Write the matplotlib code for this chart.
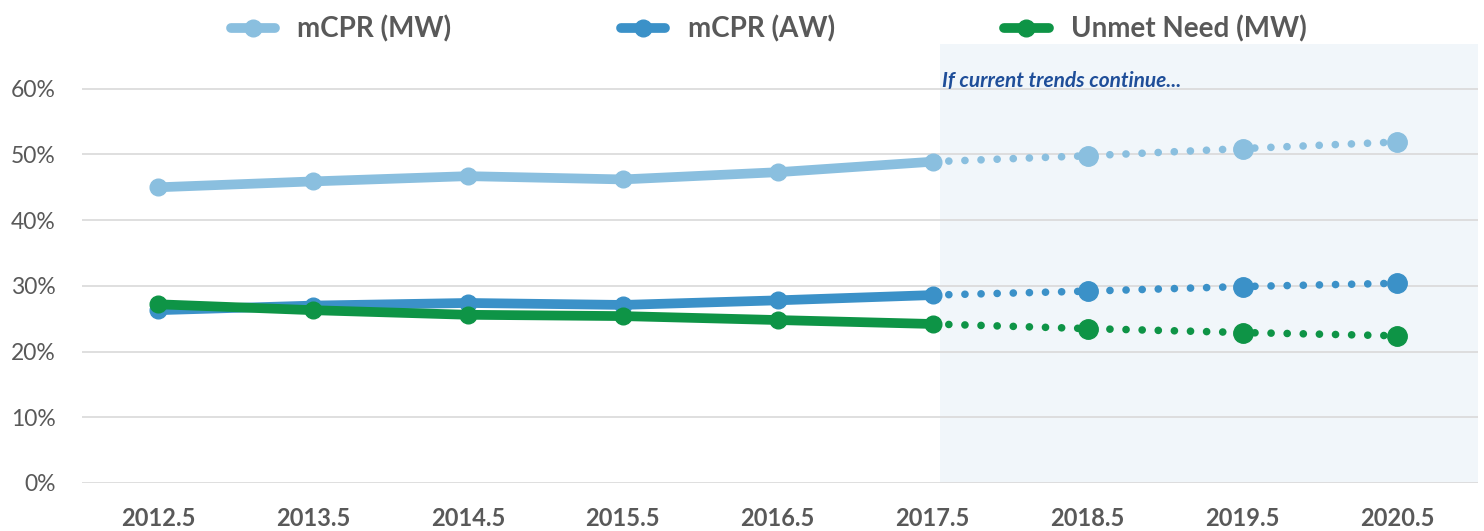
import matplotlib
matplotlib.use("Agg")
import matplotlib.pyplot as plt
from matplotlib.ticker import FuncFormatter

plt.rcParams["font.family"] = ["Lato", "DejaVu Sans"]

years = [2012.5, 2013.5, 2014.5, 2015.5, 2016.5, 2017.5, 2018.5, 2019.5, 2020.5]
mcpr_mw = [45.0, 45.9, 46.7, 46.2, 47.3, 48.9, 49.8, 50.9, 51.9]
mcpr_aw = [26.3, 27.0, 27.4, 27.1, 27.8, 28.6, 29.2, 29.9, 30.4]
unmet_mw = [27.2, 26.3, 25.6, 25.4, 24.8, 24.2, 23.5, 22.9, 22.4]
n_hist = 6  # 2012.5 .. 2017.5 observed, rest projected

series = [
    ("mCPR (MW)", mcpr_mw, "#8ABFDF"),
    ("mCPR (AW)", mcpr_aw, "#3B91C8"),
    ("Unmet Need (MW)", unmet_mw, "#0E9446"),
]

fig = plt.figure(figsize=(14.84, 5.31), dpi=100)
ax = fig.add_axes([0.0553, 0.0904, 0.9407, 0.8266])

ax.axvspan(2017.55, 2021.1, color="#F1F6FA", zorder=0, lw=0)

for label, vals, color in series:
    hx, hy = years[:n_hist], [v / 100 for v in vals[:n_hist]]
    px, py = years[n_hist - 1:], [v / 100 for v in vals[n_hist - 1:]]
    ax.plot(hx, hy, color=color, lw=7, marker="o", ms=12,
            solid_capstyle="round", zorder=3, label=label)
    ax.plot(px, py, color=color, lw=5.5, linestyle=(0, (0.01, 2.1)),
            dash_capstyle="round", zorder=3)
    ax.plot(px[1:], py[1:], color=color, lw=0, marker="o", ms=14, zorder=4)

ax.set_xlim(2012.01, 2021.02)
ax.set_ylim(0, 0.668)
ax.set_yticks([0, 0.1, 0.2, 0.3, 0.4, 0.5, 0.6])
ax.yaxis.set_major_formatter(FuncFormatter(lambda v, _: f"{v * 100:.0f}%"))
ax.set_xticks(years)
ax.set_xticklabels([f"{y:.1f}" for y in years])

ax.grid(axis="y", color="#D9D9D9", lw=1.2, zorder=1)
ax.set_axisbelow(True)
for s in ax.spines.values():
    s.set_visible(False)
ax.tick_params(axis="both", length=0)
ax.tick_params(axis="y", pad=19, labelsize=16.5, labelcolor="#595959")
ax.tick_params(axis="x", pad=17, labelsize=17, labelcolor="#595959")
for t in ax.get_xticklabels():
    t.set_fontweight("bold")

ax.text(2017.56, 0.612, "If current trends continue...", color="#1F4E99",
        fontsize=15, fontweight="bold", fontstyle="italic", va="center", ha="left")

fig.legend(loc="upper center", bbox_to_anchor=(0.518, 1.018), ncol=3, frameon=False,
           prop={"size": 20, "weight": "bold"}, labelcolor="#595959",
           handlelength=1.6, columnspacing=6.1, handletextpad=0.8)

fig.savefig("out.png", dpi=100)
